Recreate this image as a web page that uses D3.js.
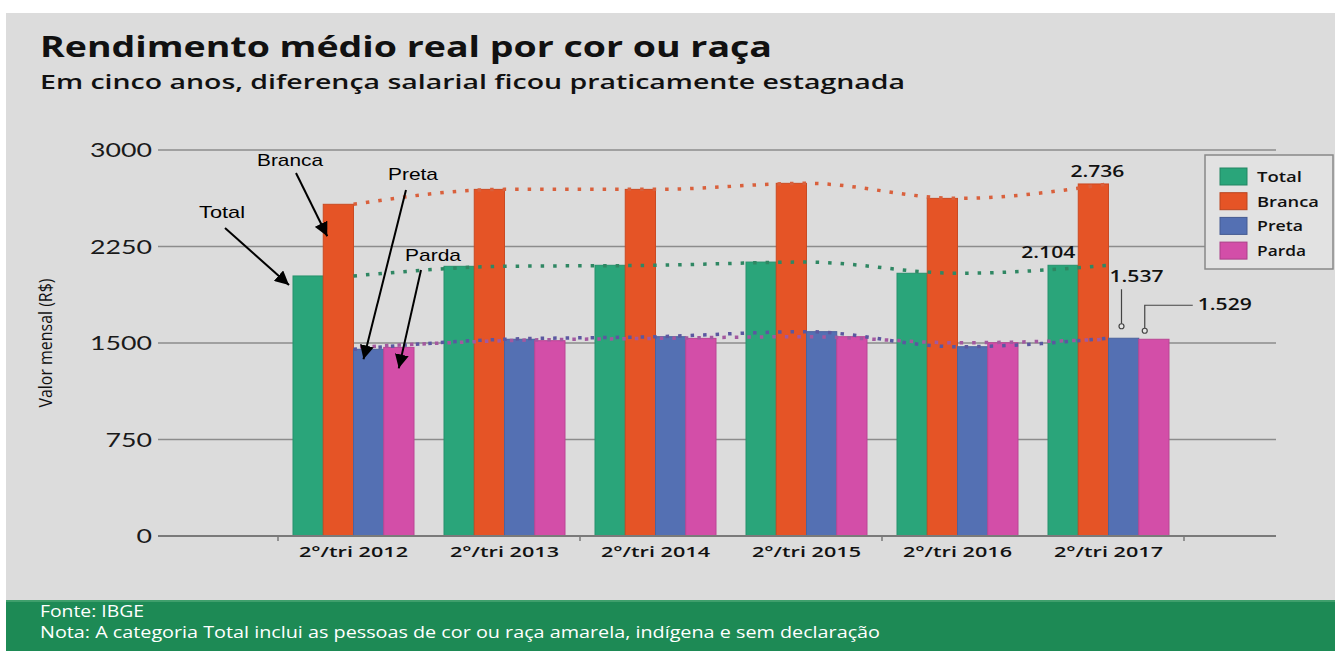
<!DOCTYPE html>
<html>
<head>
<meta charset="utf-8">
<script src="https://cdn.jsdelivr.net/npm/d3@7"></script>
<style>
  html, body { margin: 0; padding: 0; background: #fff; }
  svg { display: block; }
</style>
</head>
<body>
<div id="chart"></div>
<script>
// values (R$)
const periods = ["2°/tri 2012", "2°/tri 2013", "2°/tri 2014", "2°/tri 2015", "2°/tri 2016", "2°/tri 2017"];
const seriesNames = ["Total", "Branca", "Preta", "Parda"];
const total = [2021, 2096, 2104, 2129, 2042, 2104];
const branca = [2578, 2694, 2694, 2741, 2624, 2736];
const preta = [1451, 1529, 1549, 1588, 1471, 1537];
const parda = [1466, 1518, 1536, 1549, 1502, 1529];
const yTicks = [0, 750, 1500, 2250, 3000];
const lastLabels = ["2.104", "2.736", "1.537", "1.529"];

const colors = {
  Total: "#2aa57a",
  Branca: "#e55426",
  Preta: "#5470b3",
  Parda: "#d34ea8",
};
const dotColors = {
  Total: "#2f8763",
  Branca: "#d9603c",
  Preta: "#5b57a0",
  Parda: "#a3589f",
};

const W = 1335, H = 651;

// stretch text to a given width (the picture is squeezed wide)
const fitWidth = (sel, w) =>
  sel.attr("textLength", w).attr("lengthAdjust", "spacingAndGlyphs");

const makePlot = () => {
  const container = d3.select("#chart");
  container.selectAll("*").remove();

  const svg = container.append("svg").attr("width", W).attr("height", H);

  // backgrounds
  svg.append("rect").attr("x", 6).attr("y", 13).attr("width", W - 6).attr("height", 588).attr("fill", "#dcdcdc");
  svg.append("rect").attr("x", 6).attr("y", 600).attr("width", W - 6).attr("height", 51).attr("fill", "#1d8a55");
  svg.append("rect").attr("x", 6).attr("y", 600).attr("width", W - 6).attr("height", 2).attr("fill", "#3f9f6c");

  // titles
  svg.append("text").attr("x", 40).attr("y", 57)
    .attr("font-family", "'Open Sans', sans-serif").attr("font-weight", "bold")
    .attr("font-size", 28).attr("fill", "#111")
    .text("Rendimento médio real por cor ou raça")
    .call(fitWidth, 732);
  svg.append("text").attr("x", 40).attr("y", 89)
    .attr("font-family", "'Open Sans', sans-serif").attr("font-weight", 600)
    .attr("font-size", 20).attr("fill", "#111")
    .text("Em cinco anos, diferença salarial ficou praticamente estagnada")
    .call(fitWidth, 865);

  // scales
  const y = d3.scaleLinear().domain([0, 3000]).range([536, 150]);
  const x = d3.scaleBand().domain(periods).range([278, 1184]).padding(0);
  const x1 = d3.scaleBand().domain(seriesNames).range([15, x.bandwidth() - 15]).padding(0);
  const axisLeft = 158, axisRight = 1276;

  // gridlines
  svg.append("g").selectAll("line").data(yTicks.filter((d) => d > 0)).join("line")
    .attr("x1", axisLeft).attr("x2", axisRight)
    .attr("y1", (d) => y(d)).attr("y2", (d) => y(d))
    .attr("stroke", "#8c8c8c").attr("stroke-width", 1.5);

  // y tick labels
  svg.append("g").selectAll("text").data(yTicks).join("text")
    .attr("x", 152).attr("y", (d) => y(d) + 7)
    .attr("text-anchor", "end")
    .attr("font-family", "Lato, sans-serif").attr("font-size", 20).attr("fill", "#1a1a1a")
    .text((d) => d)
    .each(function (d) {
      d3.select(this).call(fitWidth, String(d).length * 15.5);
    });

  // y axis title
  svg.append("text")
    .attr("transform", "translate(52,343) rotate(-90)")
    .attr("text-anchor", "middle")
    .attr("font-family", "'Open Sans', sans-serif")
    .attr("font-size", 18).attr("fill", "#111")
    .text("Valor mensal (R$)")
    .call(fitWidth, 129);

  // bars
  const rows = periods.map((p, i) => ({
    period: p,
    values: [
      { key: "Total", value: total[i] },
      { key: "Branca", value: branca[i] },
      { key: "Preta", value: preta[i] },
      { key: "Parda", value: parda[i] },
    ],
  }));

  const groups = svg.append("g").selectAll("g").data(rows).join("g")
    .attr("transform", (d) => `translate(${x(d.period)},0)`);

  groups.selectAll("rect").data((d) => d.values).join("rect")
    .attr("x", (d) => x1(d.key))
    .attr("y", (d) => y(d.value))
    .attr("width", x1.bandwidth())
    .attr("height", (d) => y(0) - y(d.value))
    .attr("fill", (d) => colors[d.key])
    .attr("stroke", (d) => d3.color(colors[d.key]).darker(0.35))
    .attr("stroke-width", 1);

  // zero line and ticks
  svg.append("line").attr("x1", axisLeft).attr("x2", axisRight)
    .attr("y1", y(0)).attr("y2", y(0))
    .attr("stroke", "#7a7a7a").attr("stroke-width", 2);
  const boundaries = [0, 2, 4, 6].map((i) => x.range()[0] + i * x.step());
  svg.append("g").selectAll("line").data(boundaries).join("line")
    .attr("x1", (d) => d).attr("x2", (d) => d)
    .attr("y1", y(0)).attr("y2", y(0) + 5)
    .attr("stroke", "#7a7a7a").attr("stroke-width", 1.5);

  // x tick labels
  svg.append("g").selectAll("text").data(periods).join("text")
    .attr("x", (d) => x(d) + x.bandwidth() / 2)
    .attr("y", 557)
    .attr("text-anchor", "middle")
    .attr("font-family", "'Open Sans', sans-serif").attr("font-weight", 600)
    .attr("font-size", 15).attr("fill", "#111")
    .text((d) => d)
    .call(fitWidth, 109);

  // dotted trend lines through the group centres
  const series = { Total: total, Branca: branca, Preta: preta, Parda: parda };
  const line = d3.line()
    .x((d, i) => x(periods[i]) + x.bandwidth() / 2)
    .y((d) => y(d))
    .curve(d3.curveMonotoneX);

  ["Preta", "Parda", "Total", "Branca"].forEach((k) => {
    svg.append("path")
      .attr("d", line(series[k]))
      .attr("fill", "none")
      .attr("stroke", dotColors[k])
      .attr("stroke-width", 3.5)
      .attr("stroke-dasharray", "3.5,9")
      .attr("stroke-dashoffset", k === "Parda" ? 6 : 0);
  });

  // labels for the last period
  const last = periods.length - 1;
  const lx = (k) => x(periods[last]) + x1(k);
  const ly = (k) => y(series[k][last]);
  const labelFont = "'Open Sans', sans-serif";

  svg.append("text").attr("x", lx("Branca") + x1.bandwidth() / 2 + 4).attr("y", ly("Branca") - 7)
    .attr("text-anchor", "middle").attr("font-family", labelFont).attr("font-weight", 600)
    .attr("font-size", 16).attr("fill", "#111")
    .text(lastLabels[1]).call(fitWidth, 54);
  svg.append("text").attr("x", lx("Total") + x1.bandwidth() - 3).attr("y", ly("Total") - 7)
    .attr("text-anchor", "end").attr("font-family", labelFont).attr("font-weight", 600)
    .attr("font-size", 16).attr("fill", "#111")
    .text(lastLabels[0]).call(fitWidth, 54);

  // leader for Preta
  const pX = lx("Preta") + 13;
  svg.append("text").attr("x", pX - 12).attr("y", ly("Preta") - 56)
    .attr("font-family", labelFont).attr("font-weight", 600).attr("font-size", 16).attr("fill", "#111")
    .text(lastLabels[2]).call(fitWidth, 54);
  svg.append("line").attr("x1", pX).attr("x2", pX)
    .attr("y1", ly("Preta") - 49).attr("y2", ly("Preta") - 14)
    .attr("stroke", "#444").attr("stroke-width", 1.2);
  svg.append("circle").attr("cx", pX).attr("cy", ly("Preta") - 12).attr("r", 2.5)
    .attr("fill", "#e6e6e6").attr("stroke", "#444").attr("stroke-width", 1.2);

  // leader for Parda
  const qX = lx("Parda") + 6;
  const qY = ly("Parda") - 34;
  svg.append("path")
    .attr("d", `M${qX + 48},${qY}H${qX}V${qY + 23}`)
    .attr("fill", "none").attr("stroke", "#444").attr("stroke-width", 1.2);
  svg.append("circle").attr("cx", qX).attr("cy", qY + 25.5).attr("r", 2.5)
    .attr("fill", "#e6e6e6").attr("stroke", "#444").attr("stroke-width", 1.2);
  svg.append("text").attr("x", qX + 53).attr("y", qY + 5)
    .attr("font-family", labelFont).attr("font-weight", 600).attr("font-size", 16).attr("fill", "#111")
    .text(lastLabels[3]).call(fitWidth, 54);

  // legend
  const legend = svg.append("g").attr("transform", "translate(1205,155)");
  legend.append("rect").attr("width", 128).attr("height", 114)
    .attr("fill", "#e2e2e2").attr("stroke", "#888").attr("stroke-width", 1.5);
  const legendWidths = { Total: 45, Branca: 62, Preta: 46, Parda: 49 };
  const items = legend.selectAll("g").data(seriesNames).join("g")
    .attr("transform", (d, i) => `translate(15,${13 + i * 24.7})`);
  items.append("rect").attr("width", 27).attr("height", 17)
    .attr("fill", (d) => colors[d])
    .attr("stroke", (d) => d3.color(colors[d]).darker(0.6)).attr("stroke-width", 1);
  items.append("text").attr("x", 37).attr("y", 14)
    .attr("font-family", labelFont).attr("font-weight", 600).attr("font-size", 15).attr("fill", "#111")
    .text((d) => d)
    .each(function (d) {
      d3.select(this).call(fitWidth, legendWidths[d]);
    });

  // arrow annotations on the first period
  const defs = svg.append("defs");
  defs.append("marker").attr("id", "arrow")
    .attr("viewBox", "0 0 10 10").attr("refX", 10).attr("refY", 5)
    .attr("markerWidth", 7).attr("markerHeight", 7)
    .attr("markerUnits", "strokeWidth")
    .attr("orient", "auto")
    .append("path").attr("d", "M0,0L10,5L0,10Z").attr("fill", "#000");

  const firstX = (k) => x(periods[0]) + x1(k);
  const firstY = (k) => y(series[k][0]);
  const notes = [
    { text: "Branca", tx: 257, ty: 166, w: 66, from: [296, 173], to: [firstX("Branca") + 4, firstY("Branca") + 32] },
    { text: "Total", tx: 199, ty: 218, w: 46, from: [225, 228], to: [firstX("Total") - 4, firstY("Total") + 9] },
    { text: "Preta", tx: 388, ty: 180, w: 50, from: [406, 190], to: [firstX("Preta") + 10, firstY("Preta") + 10] },
    { text: "Parda", tx: 405, ty: 261, w: 56, from: [421, 270], to: [firstX("Parda") + 15, firstY("Parda") + 21] },
  ];
  const note = svg.append("g").selectAll("g").data(notes).join("g");
  note.append("text").attr("x", (d) => d.tx).attr("y", (d) => d.ty)
    .attr("font-family", "'Liberation Sans', Arial, sans-serif").attr("font-size", 17).attr("fill", "#000")
    .text((d) => d.text)
    .each(function (d) {
      d3.select(this).call(fitWidth, d.w);
    });
  note.append("line")
    .attr("x1", (d) => d.from[0]).attr("y1", (d) => d.from[1])
    .attr("x2", (d) => d.to[0]).attr("y2", (d) => d.to[1])
    .attr("stroke", "#000").attr("stroke-width", 2)
    .attr("marker-end", "url(#arrow)");

  // footer
  const foot = "'Open Sans', sans-serif";
  svg.append("text").attr("x", 40).attr("y", 617)
    .attr("font-family", foot).attr("font-size", 17).attr("fill", "#fff")
    .text("Fonte: IBGE").call(fitWidth, 104);
  svg.append("text").attr("x", 40).attr("y", 638)
    .attr("font-family", foot).attr("font-size", 17).attr("fill", "#fff")
    .text("Nota: A categoria Total inclui as pessoas de cor ou raça amarela, indígena e sem declaração")
    .call(fitWidth, 840);
};

makePlot();
</script>
</body>
</html>
